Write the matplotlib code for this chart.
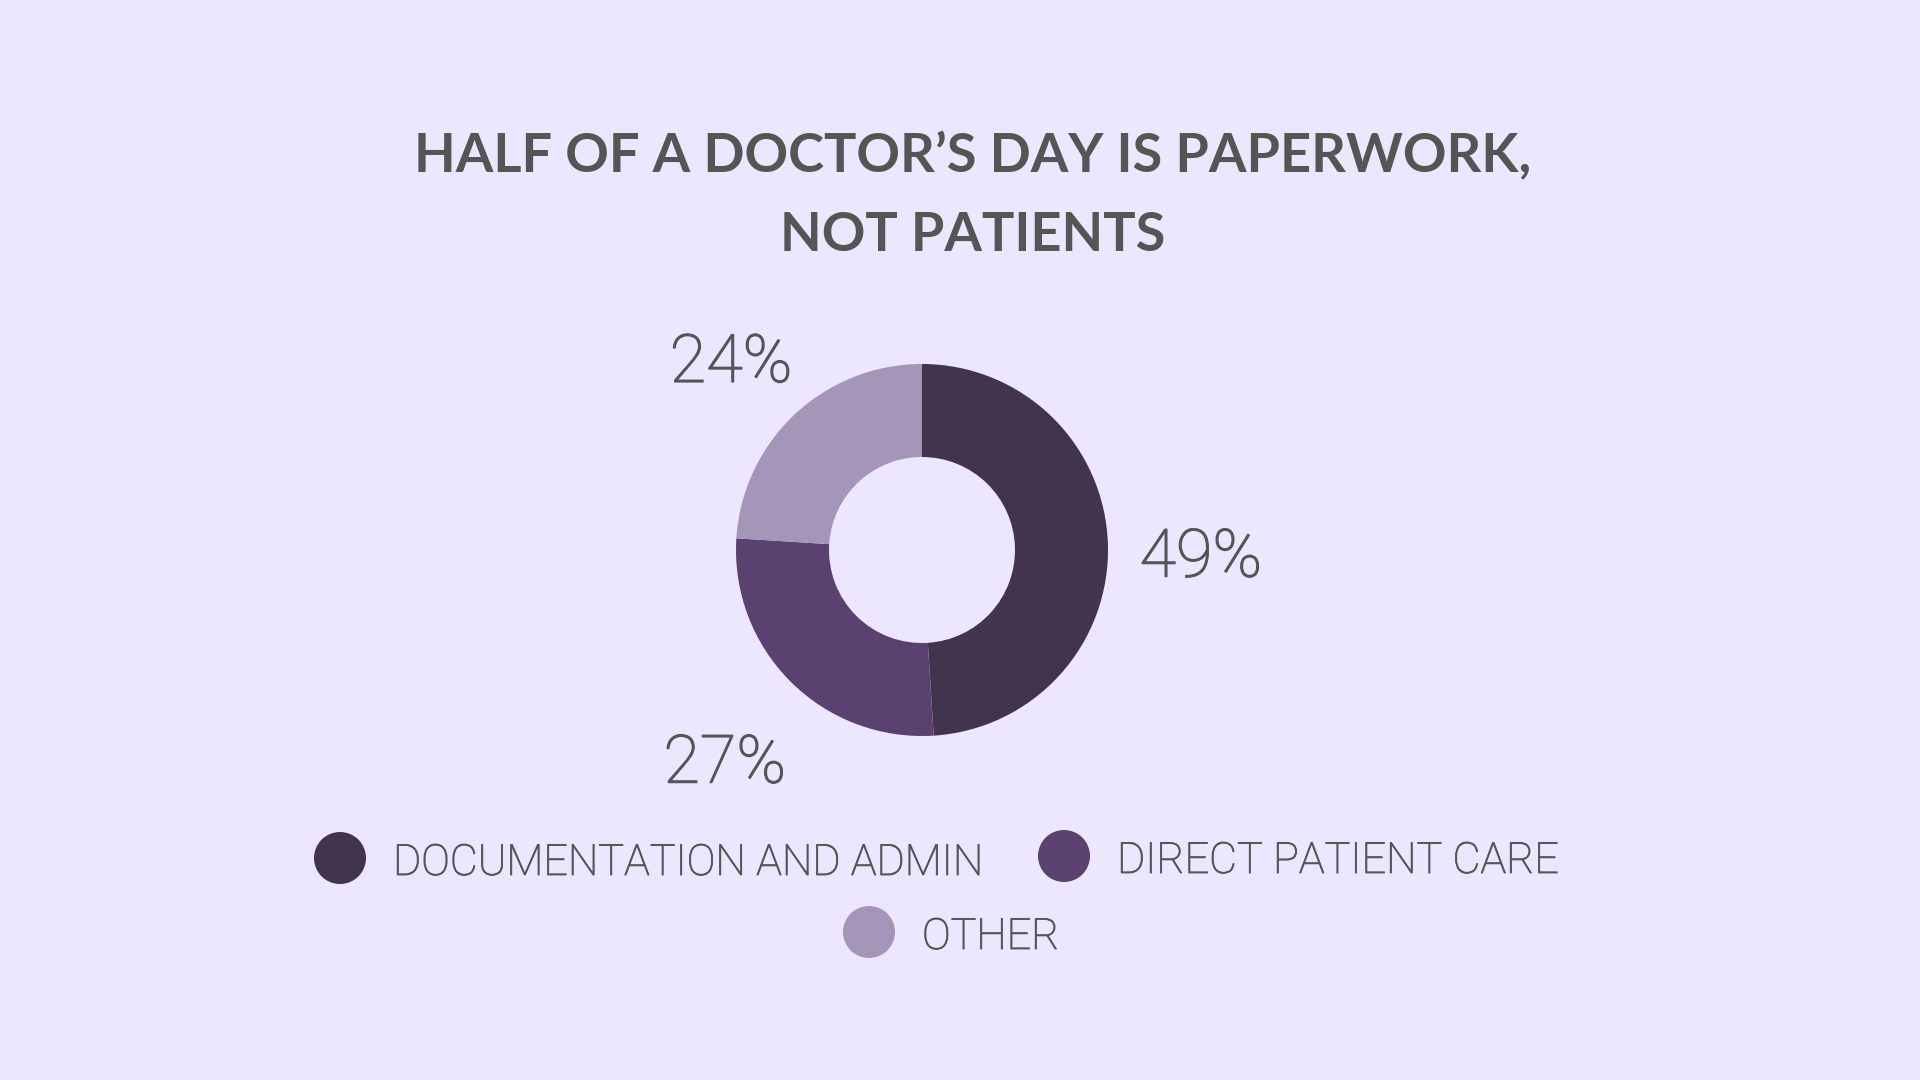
import matplotlib
matplotlib.use("Agg")
import matplotlib.pyplot as plt
import matplotlib.patheffects as pe
from matplotlib.patches import Circle

categories = ["DOCUMENTATION AND ADMIN", "DIRECT PATIENT CARE", "OTHER"]
values = [49, 27, 24]
colors = ["#41344C", "#5B416F", "#A595B9"]
title = "HALF OF A DOCTOR\u2019S DAY IS PAPERWORK,\nNOT PATIENTS"

BG = "#ECE6FE"
TXT = "#555555"
W, H = 1920, 1080

plt.rcParams["font.family"] = ["Lato", "DejaVu Sans"]

fig = plt.figure(figsize=(19.2, 10.8), dpi=100)
fig.patch.set_facecolor(BG)

fig.text(973 / W, 1 - 196 / H, title, ha="center", va="center", fontsize=39,
         fontweight="bold", color=TXT, linespacing=1.75)

THICK = [pe.withStroke(linewidth=0.9, foreground=TXT)]
LIGHT = dict(family=["Roboto", "DejaVu Sans"], fontweight="light")

cx, cy, R = 922, 550, 186
ax = fig.add_axes([(cx - R) / W, (H - cy - R) / H, 2 * R / W, 2 * R / H])
ax.set_facecolor(BG)
wedges, texts, autotexts = ax.pie(
    values, colors=colors, startangle=90, counterclock=False, radius=1,
    wedgeprops=dict(width=0.5, edgecolor="none"),
    autopct=lambda p: f"{round(p):d}%", pctdistance=1.5,
    textprops=dict(fontsize=48, color=TXT, **LIGHT))
for t in autotexts:
    t.set_clip_on(False)
    t.set_va("baseline")
    t.set_path_effects(THICK)
    x, y = t.get_position()
    t.set_position((x, y - 0.19))
ax.set_xlim(-1, 1)
ax.set_ylim(-1, 1)
ax.set_aspect("equal")
ax.axis("off")

# legend (manual layout: two items in first row, one centered below)
legend_pos = [(340, 858), (1064, 856), (869, 932)]
lax = fig.add_axes([0, 0, 1, 1], zorder=-1)
lax.set_xlim(0, W)
lax.set_ylim(H, 0)
lax.axis("off")
for (x, y), lab, col in zip(legend_pos, categories, colors):
    lax.add_patch(Circle((x, y), 26, color=col, ec="none"))
    lax.text(x + 53, y + 17, lab, ha="left", va="baseline", fontsize=31,
             color=TXT, path_effects=[pe.withStroke(linewidth=0.6, foreground=TXT)],
             **LIGHT)

fig.savefig("out.png", dpi=100, facecolor=BG)
